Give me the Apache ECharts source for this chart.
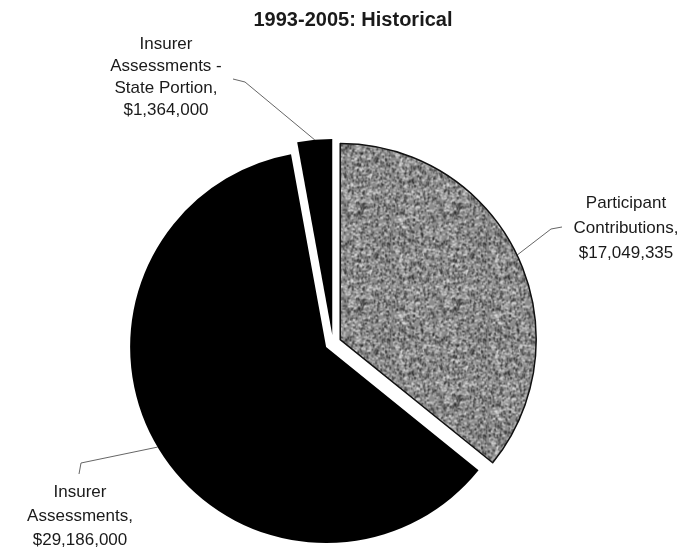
<!DOCTYPE html>
<html>
<head>
<meta charset="utf-8">
<script src="https://cdn.jsdelivr.net/npm/echarts@6/dist/echarts.min.js"></script>
<style>
  html, body { margin: 0; padding: 0; background: #fff; }
  #chart { width: 691px; height: 557px; }
</style>
</head>
<body>
<div id="chart"></div>
<script>
// Funding sources, 1993-2005
const titleText = '1993-2005: Historical';
const categories = [
  'Participant\nContributions',
  'Insurer\nAssessments',
  'Insurer\nAssessments -\nState Portion'
];
const values = [17049335, 29186000, 1364000];

// Speckled gray fill for the participant slice (deterministic hash noise)
function speckleCanvas() {
  const size = 96;
  const c = document.createElement('canvas');
  c.width = c.height = size;
  const g = c.getContext('2d');
  g.fillStyle = '#8c8c8c';
  g.fillRect(0, 0, size, size);
  const hash = n => {
    const s = Math.sin(n * 12.9898 + 78.233) * 43758.5453;
    return s - Math.floor(s);
  };
  for (let i = 0; i < 2400; i++) {
    const x = hash(i * 3 + 1) * size;
    const y = hash(i * 3 + 2) * size;
    const v = hash(i * 3 + 3);
    g.fillStyle = v < 0.5 ? 'rgba(35,35,35,0.5)' : 'rgba(235,235,235,0.5)';
    g.fillRect(x, y, 1 + v * 2, 1 + (1 - v) * 2);
  }
  return c;
}

const sliceStyles = [
  { color: { image: speckleCanvas(), repeat: 'repeat' }, borderColor: '#111', borderWidth: 1.5 },
  { color: '#000', borderWidth: 0 },
  { color: '#000', borderWidth: 0 }
];

// Label anchors (center of text block), line spacing and leader-line bends
const labelSpots = [
  { x: 626, y: 228, lineHeight: 25, bend: [[551, 229], [562, 227]] },
  { x: 80, y: 516, lineHeight: 24, bend: [[81, 463], [79, 474]] },
  { x: 166, y: 77, lineHeight: 22, bend: [[245, 82], [233, 79]] }
];

const fmtMoney = v => '$' + v.toLocaleString('en-US');

const pieCenter = [333, 343];
const pieRadius = 196;
const explode = 8;

const chart = echarts.init(document.getElementById('chart'), null, { renderer: 'canvas' });

chart.setOption({
  backgroundColor: '#fff',
  animation: false,
  title: {
    text: titleText,
    left: 348,
    top: 5,
    textAlign: 'center',
    textStyle: {
      fontFamily: 'Liberation Sans',
      fontWeight: 'bold',
      fontSize: 20,
      color: '#1a1a1a'
    }
  },
  series: [
    {
      // exploded slices
      type: 'pie',
      center: pieCenter,
      radius: [0, pieRadius],
      startAngle: 90,
      clockwise: true,
      selectedMode: 'multiple',
      selectedOffset: explode,
      emphasis: { disabled: true },
      label: { show: false },
      labelLine: { show: false },
      data: categories.map((name, i) => ({
        name: name,
        value: values[i],
        selected: true,
        itemStyle: sliceStyles[i]
      }))
    },
    {
      // label carrier: same values, invisible sectors reaching the exploded rim
      type: 'pie',
      center: pieCenter,
      radius: [0, pieRadius + explode],
      startAngle: 90,
      clockwise: true,
      silent: true,
      selectedMode: false,
      emphasis: { disabled: true },
      itemStyle: { color: 'rgba(0,0,0,0)', borderWidth: 0 },
      label: {
        show: true,
        position: 'outside',
        formatter: p => p.name + ',\n' + fmtMoney(p.value),
        fontFamily: 'Liberation Sans',
        fontSize: 17,
        lineHeight: 23,
        color: '#1a1a1a',
        align: 'center'
      },
      labelLine: {
        show: true,
        length: 10,
        length2: 10,
        lineStyle: { color: '#666', width: 1 }
      },
      labelLayout: p => {
        const s = labelSpots[p.dataIndex];
        const start = (p.labelLinePoints && p.labelLinePoints[0]) || s.bend[0];
        return {
          x: s.x,
          y: s.y,
          align: 'center',
          verticalAlign: 'middle',
          labelLinePoints: [start, s.bend[0], s.bend[1]]
        };
      },
      data: categories.map((name, i) => ({
        name: name,
        value: values[i],
        label: { lineHeight: labelSpots[i].lineHeight }
      }))
    }
  ]
});
</script>
</body>
</html>
